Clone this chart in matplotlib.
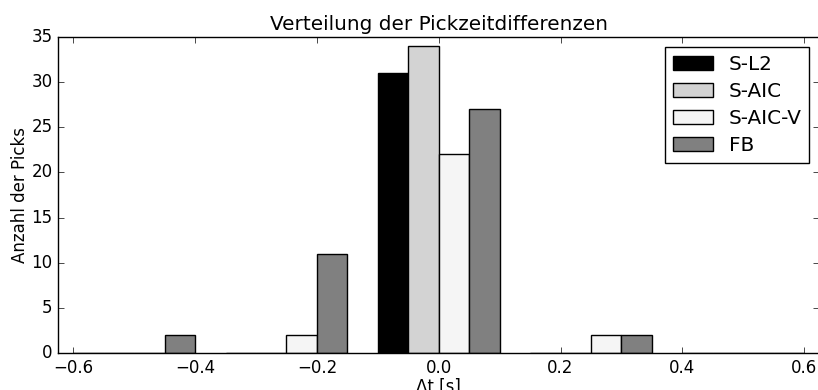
import matplotlib
matplotlib.use("Agg")
import matplotlib.pyplot as plt
import numpy as np

plt.style.use('classic')

# Data
bin_edges = [-0.625, -0.375, -0.125, 0.125, 0.375, 0.625]
bin_centers = [-0.5, -0.25, 0.0, 0.25, 0.5]
labels = ["S-L2", "S-AIC", "S-AIC-V", "FB"]
counts_sl2 = [0, 0, 31, 0, 0]
counts_saic = [0, 0, 34, 0, 0]
counts_saicv = [0, 2, 22, 2, 0]
counts_fb = [2, 11, 27, 2, 0]
colors = ["black", "lightgray", "whitesmoke", "gray"]

fig = plt.figure(figsize=(8.18, 3.9), dpi=100, facecolor="white")
ax = fig.add_axes([58/818, (390-353)/390, (819.4-58)/818, (353-37)/390])

ax.hist([bin_centers]*4, bins=bin_edges,
        weights=[counts_sl2, counts_saic, counts_saicv, counts_fb],
        color=colors, label=labels, edgecolor="black")

ax.set_xlim(-0.625, 0.625)
ax.set_ylim(0, 35)
ax.set_xticks(np.arange(-0.6, 0.61, 0.2))
ax.set_yticks(np.arange(0, 36, 5))
ax.set_title("Verteilung der Pickzeitdifferenzen")
ax.set_xlabel("Δt [s]", labelpad=0.5)
ax.set_ylabel("Anzahl der Picks", labelpad=1.8)
ax.legend(loc="upper right", labelspacing=0.4, borderpad=0.4)

fig.savefig("out.png", dpi=100, facecolor="white")
